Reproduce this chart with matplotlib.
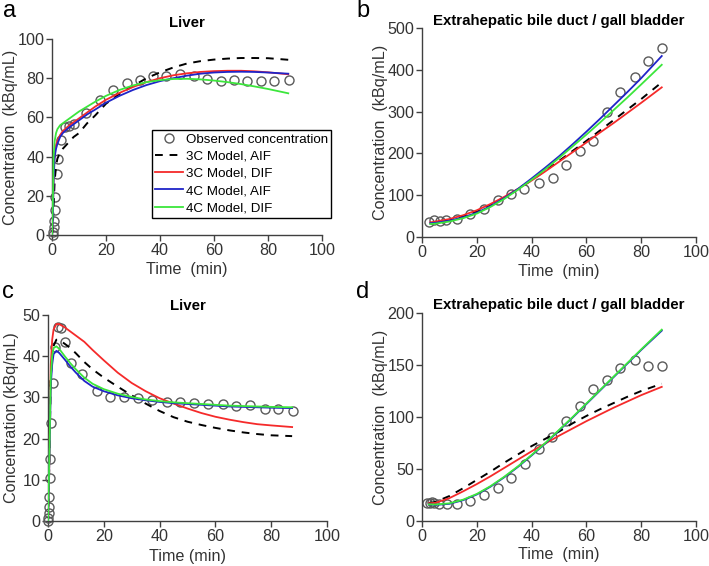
import matplotlib
matplotlib.use("Agg")
import matplotlib.pyplot as plt

plt.rcParams['font.family'] = ['Liberation Sans', 'DejaVu Sans']

# ---------------- Panel a : Liver ----------------
ta_obs = [0.2, 0.4, 0.6, 0.8, 1.0, 1.2, 1.7, 2.2, 3.3, 4.8, 6.3, 8.3, 12.5, 17.7,
          22.6, 27.6, 32.5, 37.5, 42.4, 47.4, 52.6, 57.5, 62.5, 67.5, 72.4, 77.4, 82.3, 87.6]
ca_obs = [0, 1.5, 4, 7, 12.7, 19.5, 31, 39, 48.5, 55.3, 55.8, 56.5, 62.3, 68.8,
          73.8, 77.5, 79.2, 81.3, 81.3, 82.3, 81.3, 79.7, 78.7, 79.2, 78.4, 78.7, 78.7, 79.2]
ta_mod = [0, 0.3, 0.6, 1, 1.5, 2, 3, 4, 6, 8, 10, 13, 16, 20, 25, 30, 35, 40,
          45, 50, 55, 60, 65, 70, 75, 80, 87.5]
a_3c_aif = [0, 5, 15, 28, 35, 39, 42, 44, 47, 50, 52, 57, 61, 67, 72, 76, 80, 83,
            85.5, 87.5, 88.7, 89.5, 90, 90.3, 90.3, 90.2, 89.4]
a_3c_dif = [0, 10, 30, 42, 46, 48, 51, 53, 55.5, 57.5, 59.5, 62.5, 65.5, 69, 72.5, 75.5, 78, 80,
            81.5, 82.5, 83.2, 83.6, 83.8, 83.8, 83.5, 83, 82]
a_4c_aif = [0, 8, 28, 40, 44, 46.5, 50, 52, 54.5, 56.5, 58.5, 61.5, 64, 67.5, 71, 74, 76.5, 78.5,
            80, 81.3, 82.3, 82.9, 83.2, 83.3, 83.2, 82.9, 82.3]
a_4c_dif = [0, 15, 40, 48, 52, 54, 56, 57, 59, 61, 63, 65.5, 68, 71, 74, 76.3, 78, 79,
            79.6, 79.7, 79.4, 78.8, 78, 77, 75.8, 74.5, 72.3]

# ---------------- Panel b : Extrahepatic bile duct / gall bladder ----------------
tb_obs = [2.4, 4.3, 6.4, 8.9, 12.8, 17.6, 22.5, 27.6, 32.5, 37.3, 42.6, 47.7, 52.6,
          57.7, 62.5, 67.5, 72.4, 77.6, 82.5, 87.6]
cb_obs = [36, 41.6, 38.4, 40, 44, 56, 68, 88, 104, 116, 130, 142, 172,
          206, 230, 300, 347, 382, 420, 452]
tb_mod = [3, 5, 10, 15, 20, 25, 30, 35, 40, 45, 50, 55, 60, 65, 70, 75, 80, 87.5]
b_3c_aif = [33, 34, 40, 49, 61, 76, 94, 114, 136, 159, 182, 206, 230, 255, 280, 305, 330, 370]
b_3c_dif = [35, 37, 43, 52, 64, 79, 96, 115, 135, 157, 180, 203, 226, 250, 273, 297, 321, 358]
b_4c_aif = [33, 34, 39, 47, 58, 74, 93, 115, 140, 166, 193, 222, 252, 283, 315, 347, 380, 433]
b_4c_dif = [31, 32, 37, 45, 56, 72, 91, 113, 137, 162, 189, 217, 245, 274, 304, 334, 365, 412]

# ---------------- Panel c : Liver ----------------
tc_obs = [0.05, 0.15, 0.25, 0.35, 0.45, 0.6, 0.8, 1.2, 1.65, 2.4, 3.6, 4.8, 6.2, 8.4,
          12.3, 17.4, 22.2, 27.3, 32.3, 37.4, 42.5, 47.3, 52.5, 57.5, 62.6, 67.4,
          72.5, 77.6, 82.6, 87.7]
cc_obs = [0, 0.8, 2, 3.3, 5.9, 10.4, 15, 23.9, 33.4, 42.3, 47, 46.8, 43.5, 38.4,
          35.6, 31.6, 30.2, 30, 29.8, 29.4, 29, 29, 28.6, 28.4, 28.4, 27.9,
          28.1, 27.3, 27.3, 26.8]
tc_mod = [0, 0.5, 1, 1.5, 2, 3, 4, 6, 8, 10, 13, 16, 20, 25, 30, 35, 40, 45, 50,
          55, 60, 65, 70, 75, 80, 87.5]
c_3c_aif = [0, 14, 35, 40, 42.5, 44, 44, 43, 42, 40.7, 38.6, 36.8, 34.8, 32.6, 30.5, 28.5,
            26.7, 25.2, 24.1, 23.3, 22.6, 22, 21.5, 21.1, 20.8, 20.6]
c_3c_dif = [0, 15, 38, 44, 46.5, 47.8, 47.8, 47, 46, 45, 43.5, 41.5, 39, 36, 33.5, 31.5,
            29.8, 28.5, 27.3, 26.2, 25.3, 24.6, 24, 23.5, 23.2, 22.8]
c_4c_aif = [0, 15, 33, 38, 40.5, 41.3, 40.8, 39.2, 37.5, 36, 34, 32.6, 31.5, 30.5, 29.8, 29.3,
            28.9, 28.6, 28.4, 28.2, 28, 27.8, 27.7, 27.6, 27.5, 27.4]
c_4c_dif = [0, 16, 35, 40, 42, 42.4, 41.8, 40, 38.3, 36.8, 34.8, 33.3, 32, 30.9, 30.1, 29.5,
            29.1, 28.8, 28.6, 28.4, 28.2, 28.0, 27.9, 27.8, 27.7, 27.6]

# ---------------- Panel d : Extrahepatic bile duct / gall bladder ----------------
td_obs = [1.7, 2.9, 3.6, 4.4, 6.3, 9.0, 12.7, 17.6, 22.5, 27.6, 32.5, 37.7, 42.6,
          47.4, 52.6, 57.7, 62.5, 67.5, 72.4, 77.6, 82.5, 87.6]
cd_obs = [17, 17.6, 18.6, 17.6, 16, 16, 16.6, 19.2, 24.6, 32, 41.6, 55, 68.8,
          81, 96, 111, 127, 136, 147, 154.6, 148.8, 149]
td_mod = [2.5, 5, 10, 15, 20, 25, 30, 35, 40, 45, 50, 55, 60, 65, 70, 75, 80, 87.5]
d_3c_aif = [17, 18.5, 24, 31.5, 39.5, 47.5, 56, 64, 72, 79, 86, 94, 101, 107.5, 113.5, 119.5, 125, 132]
d_3c_dif = [17, 17.5, 22, 28.5, 35.5, 43, 51, 59, 67, 74.5, 82, 89, 96, 102.5, 109, 115, 121, 129]
d_4c_aif = [16, 15.5, 16.5, 20, 25.5, 33, 42, 52, 63, 74.5, 87, 99.5, 112.5, 125.5, 138.5, 151.5, 164.5, 183]
d_4c_dif = [16, 15.8, 17, 20.5, 26, 33.5, 42.5, 52.5, 63.5, 75, 87.5, 100, 113, 126, 139, 152, 165, 184]

xticks = [0, 20, 40, 60, 80, 100]
labels = ['Observed concentration', '3C Model, AIF', '3C Model, DIF',
          '4C Model, AIF', '4C Model, DIF']

RED = '#f52a2a'
BLUE = '#1f24c8'
GREEN = '#3ce63c'
GREY = '#404040'

W, H = 709, 566
fig = plt.figure(figsize=(7.09, 5.66), dpi=100)

panels = [
    dict(rect=[52/W, 1-235/H, 270/W, 196/H], ylim=100, yt=[0, 20, 40, 60, 80, 100],
         to=ta_obs, co=ca_obs, tm=ta_mod, ser=[a_3c_aif, a_3c_dif, a_4c_aif, a_4c_dif],
         title='Liver', tpad=8.5, letter='a', lx=3, ly=0, sp='  ', ylx=18, xly=262),
    dict(rect=[422/W, 1-237/H, 274/W, 209/H], ylim=500, yt=[0, 100, 200, 300, 400, 500],
         to=tb_obs, co=cb_obs, tm=tb_mod, ser=[b_3c_aif, b_3c_dif, b_4c_aif, b_4c_dif],
         title='Extrahepatic bile duct / gall bladder', tpad=2.5, letter='b', lx=356, ly=0,
         sp='  ', ylx=388, xly=264),
    dict(rect=[48/W, 1-521/H, 279/W, 206/H], ylim=50, yt=[0, 10, 20, 30, 40, 50],
         to=tc_obs, co=cc_obs, tm=tc_mod, ser=[c_3c_aif, c_3c_dif, c_4c_aif, c_4c_dif],
         title='Liver', tpad=3.5, letter='c', lx=2, ly=281, sp=' ', ylx=19, xly=549),
    dict(rect=[422/W, 1-521/H, 274/W, 208/H], ylim=200, yt=[0, 50, 100, 150, 200],
         to=td_obs, co=cd_obs, tm=td_mod, ser=[d_3c_aif, d_3c_dif, d_4c_aif, d_4c_dif],
         title='Extrahepatic bile duct / gall bladder', tpad=3.0, letter='d', lx=356, ly=281,
         sp='  ', ylx=388, xly=547),
]

FS = 11.6
for i, p in enumerate(panels):
    ax = fig.add_axes(p['rect'])
    h_obs, = ax.plot(p['to'], p['co'], 'o', mfc='none', mec='#5a5a5a', mew=1.0, ms=6.5,
                     clip_on=False, zorder=2)
    s = p['ser']
    h1, = ax.plot(p['tm'], s[0], color='black', lw=1.4, ls=(0, (4, 3.5)), zorder=3)
    h2, = ax.plot(p['tm'], s[1], color=RED, lw=1.3, zorder=4)
    h3, = ax.plot(p['tm'], s[2], color=BLUE, lw=1.3, zorder=5)
    h4, = ax.plot(p['tm'], s[3], color=GREEN, lw=1.3, zorder=6)
    ax.set_xlim(0, 100)
    ax.set_ylim(0, p['ylim'])
    ax.set_xticks(xticks)
    ax.set_yticks(p['yt'])
    for side in ['top', 'right']:
        ax.spines[side].set_visible(False)
    for side in ['left', 'bottom']:
        ax.spines[side].set_color(GREY)
        ax.spines[side].set_linewidth(1.0)
    ax.tick_params(colors=GREY, labelcolor='#333333', labelsize=FS, direction='out',
                   length=4, width=1.0, pad=1.5)
    ax.set_xlabel('Time' + p['sp'] + '(min)', fontsize=FS, color='#333333')
    ax.set_ylabel('Concentration' + p['sp'] + '(kBq/mL)', fontsize=FS, color='#333333')
    # label positions (figure pixels -> axes fraction)
    l, b, w, h = p['rect']
    ax.yaxis.set_label_coords((p['ylx']/W - l)/w, 0.5)
    ax.xaxis.set_label_coords(0.5, ((1 - p['xly']/H) - b)/h)
    ax.set_title(p['title'], fontsize=10.8, fontweight='bold', pad=p['tpad'])
    fig.text(p['lx']/W, 1-p['ly']/H, p['letter'], fontsize=17, ha='left', va='top')
    if i == 0:
        leg = ax.legend([h_obs, h1, h2, h3, h4], labels, loc='upper left',
                        bbox_to_anchor=(152/W, 1-130/H), bbox_transform=fig.transFigure,
                        fontsize=9.6, frameon=True, fancybox=False, framealpha=1,
                        edgecolor='black', handlelength=2.1, handletextpad=0.2,
                        borderpad=0.25, labelspacing=0.36, borderaxespad=0)
        leg.get_frame().set_linewidth(1.0)

fig.savefig('out.png', dpi=100)
